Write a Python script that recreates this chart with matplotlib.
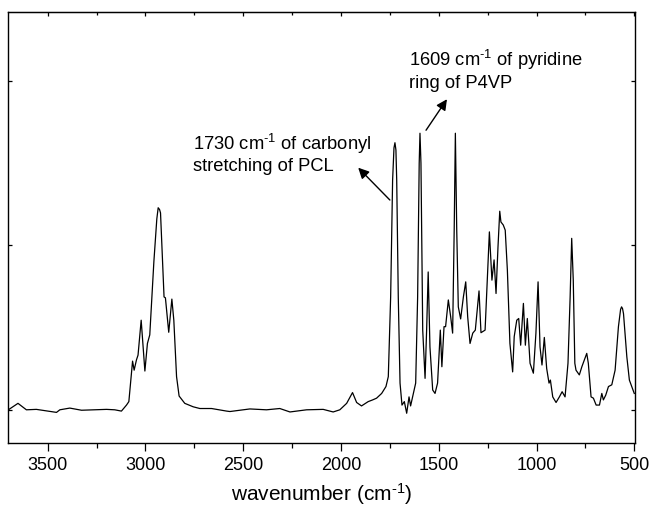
import matplotlib
matplotlib.use("Agg")
import matplotlib.pyplot as plt
from matplotlib.ticker import MultipleLocator

plt.rcParams['font.family'] = ['Liberation Sans', 'DejaVu Sans']
plt.rcParams['mathtext.fontset'] = 'custom'
plt.rcParams['mathtext.rm'] = 'Liberation Sans'
plt.rcParams['mathtext.it'] = 'Liberation Sans'
plt.rcParams['mathtext.default'] = 'regular'

# FTIR spectrum (wavenumber, absorbance a.u.)
wavenumber = [3698, 3652, 3609, 3558, 3455, 3438, 3387, 3327, 3199, 3157, 3123, 3097, 3085,
              3066, 3058, 3046, 3038, 3022, 3003, 2990, 2978, 2957, 2942, 2935, 2928, 2923, 2905, 2898,
              2881, 2865, 2855, 2841, 2828, 2799, 2756, 2722, 2662, 2585, 2568, 2483, 2466,
              2381, 2313, 2261, 2176, 2091, 2040, 2006, 1971, 1941, 1920, 1895, 1861, 1838,
              1818, 1792, 1770, 1758, 1746, 1736, 1729, 1724, 1719, 1715, 1707, 1698, 1688, 1676, 1664,
              1652, 1644, 1630, 1618, 1608, 1600, 1596, 1591, 1582, 1570, 1562, 1554, 1545,
              1531, 1519, 1506, 1492, 1484, 1473, 1465, 1451, 1439, 1429, 1421, 1415, 1408,
              1400, 1388, 1374, 1362, 1352, 1340, 1326, 1313, 1294, 1284, 1263, 1252, 1241,
              1228, 1217, 1207, 1197, 1188, 1182, 1170, 1160, 1149, 1136, 1122, 1114, 1101,
              1091, 1081, 1067, 1057, 1047, 1033, 1016, 1003, 992, 982, 972, 960, 948, 936,
              929, 917, 900, 883, 869, 854, 839, 828, 820, 812, 804, 798, 781, 768, 752, 743,
              735, 721, 709, 695, 678, 666, 658, 646, 632, 615, 598, 581, 570, 565, 560, 555, 538, 525,
              510, 500]
absorbance = [0.078, 0.092, 0.077, 0.078, 0.071, 0.077, 0.081, 0.076, 0.078, 0.077, 0.074, 0.088, 0.096,
              0.190, 0.169, 0.193, 0.204, 0.285, 0.167, 0.231, 0.251, 0.421, 0.520, 0.546, 0.542, 0.534, 0.339, 0.337,
              0.257, 0.334, 0.285, 0.154, 0.109, 0.092, 0.084, 0.080, 0.080, 0.074, 0.073, 0.078, 0.079,
              0.077, 0.080, 0.072, 0.077, 0.078, 0.072, 0.077, 0.092, 0.117, 0.094, 0.086, 0.096, 0.100,
              0.104, 0.115, 0.131, 0.154, 0.339, 0.610, 0.685, 0.697, 0.680, 0.610, 0.339, 0.139, 0.088, 0.096, 0.069,
              0.107, 0.086, 0.115, 0.139, 0.339, 0.649, 0.719, 0.650, 0.262, 0.150, 0.262, 0.397, 0.223,
              0.123, 0.115, 0.139, 0.262, 0.177, 0.270, 0.270, 0.332, 0.293, 0.255, 0.494, 0.719, 0.494,
              0.316, 0.288, 0.339, 0.374, 0.293, 0.231, 0.255, 0.262, 0.353, 0.256, 0.262, 0.378, 0.490,
              0.378, 0.425, 0.347, 0.455, 0.538, 0.513, 0.506, 0.494, 0.401, 0.231, 0.165, 0.247, 0.285,
              0.289, 0.227, 0.324, 0.227, 0.289, 0.185, 0.162, 0.255, 0.374, 0.223, 0.181, 0.245, 0.173, 0.139,
              0.146, 0.107, 0.094, 0.107, 0.119, 0.107, 0.185, 0.339, 0.475, 0.378, 0.185, 0.169, 0.158, 0.177, 0.197, 0.208,
              0.185, 0.107, 0.104, 0.088, 0.088, 0.115, 0.100, 0.111, 0.131, 0.135, 0.169, 0.270, 0.310, 0.316, 0.312, 0.300, 0.200, 0.146,
              0.127, 0.115]

x_ticks = [3500, 3000, 2500, 2000, 1500, 1000, 500]
x_tick_labels = ['3500', '3000', '2500', '2000', '1500', '1000', '500']
y_ticks = [0.077, 0.459, 0.840]

label1 = [r'1730 cm$^{\text{-1}}$ of carbonyl', 'stretching of PCL']
label2 = [r'1609 cm$^{\text{-1}}$ of pyridine', 'ring of P4VP']

fig = plt.figure(figsize=(6.52, 5.08), dpi=100)
ax = fig.add_axes([0.0123, 0.128, 0.9617, 0.848])
ax.plot(wavenumber, absorbance, color='black', lw=0.9)
ax.set_xlim(3703, 496)
ax.set_ylim(0, 1)

ax.set_xticks(x_ticks)
ax.set_xticklabels(x_tick_labels, family=['Liberation Sans Narrow', 'Liberation Sans'], fontsize=13)
ax.xaxis.set_minor_locator(MultipleLocator(250))
ax.set_yticks(y_ticks)
ax.set_yticklabels([])
ax.tick_params(axis='x', which='major', direction='out', length=6, width=0.9, pad=4, top=False)
ax.tick_params(axis='x', which='minor', direction='out', length=3.5, width=0.9, top=False)
ax.tick_params(axis='y', which='major', direction='in', length=3, width=0.9, left=True, right=True)
for s in ax.spines.values():
    s.set_linewidth(1.0)
ax.set_xlabel(r'wavenumber (cm$^{\text{-1}}$)', fontsize=15, labelpad=5)

# top mirror ticks
secx = ax.secondary_xaxis('top')
secx.set_xticks(x_ticks)
secx.set_xticklabels([])
secx.xaxis.set_minor_locator(MultipleLocator(250))
secx.tick_params(axis='x', which='major', direction='in', length=3, width=0.9)
secx.tick_params(axis='x', which='minor', direction='in', length=2, width=0.9)

# annotations
ax.text(2759, 0.680, label1[0], fontsize=13.2, ha='left', va='baseline')
ax.text(2759, 0.632, label1[1], fontsize=13.2, ha='left', va='baseline')
ax.text(1652, 0.876, label2[0], fontsize=13.2, ha='left', va='baseline')
ax.text(1652, 0.824, label2[1], fontsize=13.2, ha='left', va='baseline')
arrow = dict(arrowstyle='-|>', mutation_scale=16, color='black', lw=1.0, shrinkA=0, shrinkB=0)
ax.annotate('', xy=(1912, 0.639), xytext=(1750, 0.564), arrowprops=arrow)
ax.annotate('', xy=(1458, 0.798), xytext=(1565, 0.726), arrowprops=arrow)

fig.savefig('out.png', dpi=100)
